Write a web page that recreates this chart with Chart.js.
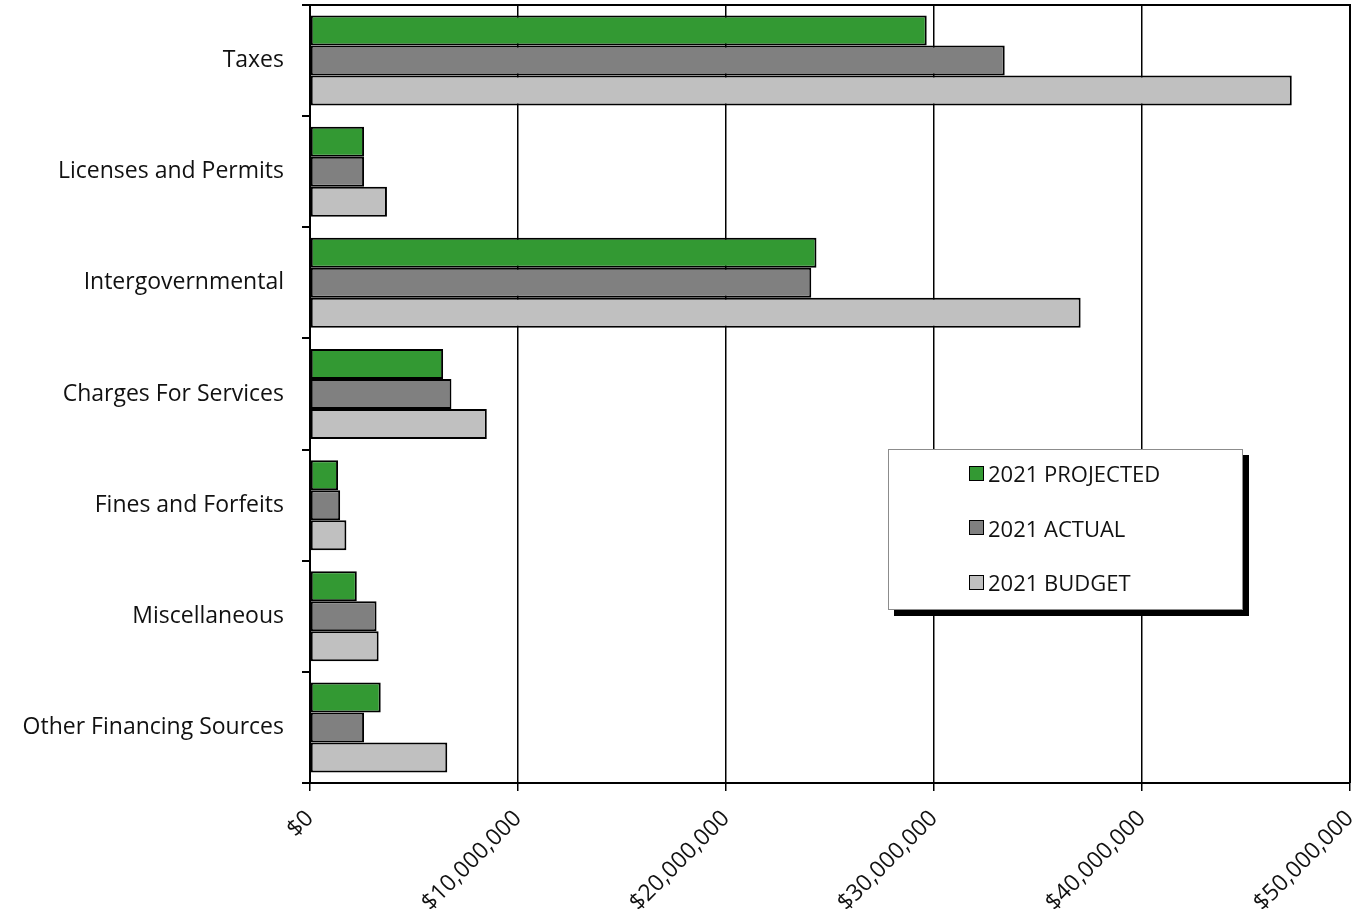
<!DOCTYPE html>
<html>
<head>
<meta charset="utf-8">
<script src="https://cdn.jsdelivr.net/npm/chart.js@4"></script>
<style>
  body { margin: 0; background: #fff; }
  #wrap { position: relative; width: 1364px; height: 909px; }
  #legendBox {
    position: absolute; left: 888px; top: 449px; width: 353px; height: 159px;
    border: 1px solid #8c8c8c; background: #fff; box-shadow: 6px 6px 0 #000;
    font-family: "Open Sans", sans-serif; font-size: 22px; color: #111;
  }
  .item { position: absolute; left: 80px; display: flex; align-items: center; }
  .swatch { width: 13px; height: 13px; border: 1.5px solid #000; margin-right: 4px; }
</style>
</head>
<body>
<div id="wrap">
  <canvas id="chart" width="1364" height="909"></canvas>
  <div id="legendBox"></div>
</div>
<script>
// categories and series (values in dollars)
const categories = ["Taxes", "Licenses and Permits", "Intergovernmental", "Charges For Services",
  "Fines and Forfeits", "Miscellaneous", "Other Financing Sources"];
const seriesNames = ["2021 PROJECTED", "2021 ACTUAL", "2021 BUDGET"];
const projected = [29650000, 2600000, 24350000, 6400000, 1350000, 2250000, 3400000];
const actual    = [33400000, 2600000, 24100000, 6800000, 1450000, 3200000, 2600000];
const budget    = [47200000, 3700000, 37050000, 8500000, 1750000, 3300000, 6600000];
const colors = ["#339933", "#808080", "#c0c0c0"];
const xTicks = [0, 10000000, 20000000, 30000000, 40000000, 50000000];

const frame = {
  id: "frame",
  afterDraw(chart) {
    const a = chart.chartArea, ctx = chart.ctx;
    ctx.save();
    ctx.strokeStyle = "#000";
    ctx.lineWidth = 2;
    ctx.beginPath();
    ctx.moveTo(a.left - 8, a.top);
    ctx.lineTo(a.right, a.top);
    ctx.lineTo(a.right, a.bottom);
    ctx.stroke();
    ctx.restore();
  }
};

// drop the extra room chart.js keeps for half labels
function noPad(scale) {
  scale.paddingTop = 0; scale.paddingBottom = 0;
  scale.paddingLeft = 0; scale.paddingRight = 0;
}

const values = [projected, actual, budget];
new Chart(document.getElementById("chart"), {
  type: "bar",
  data: {
    labels: categories,
    datasets: seriesNames.map((name, i) => ({
      label: name,
      data: values[i],
      backgroundColor: colors[i],
      borderColor: "#000",
      borderWidth: 2,
      borderSkipped: false,
      categoryPercentage: 0.81,
      barPercentage: 1.0
    }))
  },
  options: {
    indexAxis: "y",
    responsive: false,
    animation: false,
    layout: { padding: { left: 10, top: 5, right: 14, bottom: 0 } },
    plugins: { legend: { display: false }, tooltip: { enabled: false } },
    scales: {
      x: {
        min: 0, max: 50000000,
        afterBuildTicks(scale) { scale.ticks = xTicks.map(v => ({ value: v })); },
        afterFit(scale) { scale.height = 126; noPad(scale); },
        grid: { color: "#000", lineWidth: 1.5, tickLength: 8, drawTicks: true },
        border: { color: "#000", width: 2 },
        ticks: {
          minRotation: 45, maxRotation: 45, padding: 14,
          color: "#111",
          font: { family: "Open Sans", size: 23 },
          callback: v => "$" + Number(v).toLocaleString("en-US")
        }
      },
      y: {
        afterFit(scale) { scale.width = 300; noPad(scale); },
        grid: { drawOnChartArea: false, color: "#000", lineWidth: 2, tickLength: 8 },
        border: { color: "#000", width: 2 },
        ticks: {
          padding: 18, color: "#111",
          font: { family: "Open Sans", size: 23 }
        }
      }
    }
  },
  plugins: [frame]
});

const box = document.getElementById("legendBox");
seriesNames.forEach((name, i) => {
  const it = document.createElement("div");
  it.className = "item";
  it.style.top = (8 + i * 54.5) + "px";
  it.innerHTML = `<span class="swatch" style="background:${colors[i]}"></span><span>${name}</span>`;
  box.appendChild(it);
});
</script>
</body>
</html>
